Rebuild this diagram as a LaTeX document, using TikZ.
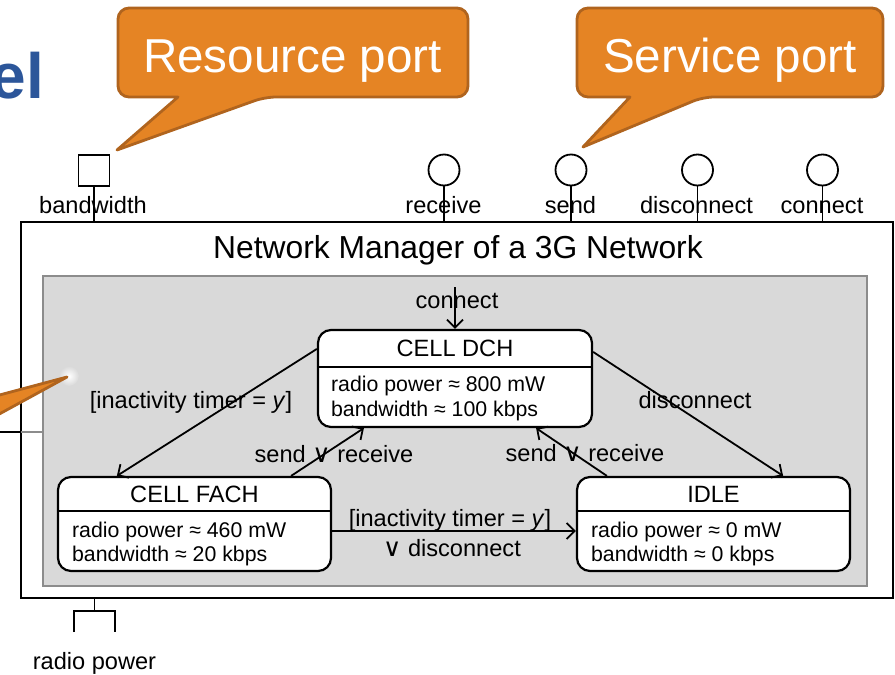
\documentclass[tikz,border=0pt]{standalone}
\usepackage{fontspec}
\setmainfont{Liberation Sans}
\newfontfamily\symfont{DejaVu Sans}
\usetikzlibrary{arrows.meta,calc}

\definecolor{calloutfill}{RGB}{229,132,36}
\definecolor{calloutline}{RGB}{176,100,30}
\definecolor{regionfill}{RGB}{217,217,217}
\definecolor{regionline}{RGB}{140,140,140}
\definecolor{titleblue}{RGB}{44,86,154}

\newcommand{\orsym}{{\symfont\fontsize{25}{28}\selectfont ∨}}

\tikzset{
  lbl/.style={font=\fontsize{23.6}{28}\selectfont, inner sep=0pt, anchor=base},
  attr/.style={font=\fontsize{21.3}{25}\selectfont, inner sep=0pt, anchor=base west},
  statebox/.style={draw, line width=2.2pt, rounded corners=13pt, fill=white,
    minimum width=273pt, minimum height=94pt, inner sep=0pt},
  divider/.style={line width=2pt},
  trans/.style={line width=1.8pt, -{Straight Barb[length=8pt,width=16pt,line width=1.8pt]}},
  portline/.style={line width=1.8pt},
  portsq/.style={draw, line width=1.8pt, minimum size=31pt, inner sep=0pt},
  portci/.style={draw, circle, line width=1.8pt, minimum size=31pt, inner sep=0pt},
  callout/.style={fill=calloutfill, draw=calloutline, line width=2.8pt, line join=round},
  callouttext/.style={font=\fontsize{47.6}{52}\selectfont, text=white, inner sep=0pt, anchor=base},
}

\begin{document}
\begin{tikzpicture}[x=1pt, y=-1pt]
\useasboundingbox (0,0) rectangle (895,675);

% heading fragment
\node[font=\bfseries\fontsize{64}{64}\selectfont, text=titleblue, anchor=base east, inner sep=0pt] (heading) at (44.5,98) {el};

% component and its inner region
\node[draw, line width=1.8pt, fill=white, minimum width=872pt, minimum height=376pt, inner sep=0pt] (net) at (457,410) {};
\node[draw=regionline, fill=regionfill, line width=2pt, minimum width=824pt, minimum height=310pt, inner sep=0pt] (region) at (455,431) {};
\node[font=\fontsize{31.8}{36}\selectfont, inner sep=0pt, anchor=base] (title) at (458,258) {Network Manager of a 3G Network};

% line entering from the left
\draw[portline] (-5,432) -- (21,432);
\draw[portline, regionline] (21,432) -- (43,432);

% ports on top
\node[portsq] (bw) at (94,170.5) {};
\node[portci] (recv) at (444,170) {};
\node[portci] (send) at (571,170) {};
\node[portci] (disc) at (697.5,170) {};
\node[portci] (conn) at (822.5,170) {};
\foreach \p in {bw,recv,send,disc,conn}
  \draw[portline] (\p.south) -- (\p.south |- net.north);
\node[lbl] (bwlbl) at (93,213) {bandwidth};
\node[lbl] (recvlbl) at (443.5,213) {receive};
\node[lbl] (sendlbl) at (570.5,213) {send};
\node[lbl] (disclbl) at (696.5,213) {disconnect};
\node[lbl] (connlbl) at (822,213) {connect};

% resource port at the bottom
\coordinate (rp) at (94.5,611);
\draw[portline] (rp) -- (rp |- net.south);
\draw[portline] ($(rp)+(-20.5,21)$) -- ++(0,-21) -- ++(41,0) -- ++(0,21);
\node[lbl] (rplbl) at (94.5,669) {radio power};

% states
\node[statebox, minimum width=274pt, minimum height=97pt] (dch) at (455,378.5) {};
\draw[divider] ([yshift=-38pt]dch.north west) -- ([yshift=-38pt]dch.north east);
\node[lbl] at ([yshift=-28pt]dch.north) {CELL DCH};
\node[attr] at ([xshift=14pt,yshift=-63pt]dch.north west) {radio power ≈ 800 mW};
\node[attr] at ([xshift=14pt,yshift=-88pt]dch.north west) {bandwidth ≈ 100 kbps};

\node[statebox] (fach) at (194.5,524) {};
\draw[divider] ([yshift=-35pt]fach.north west) -- ([yshift=-35pt]fach.north east);
\node[lbl] at ([yshift=-27pt]fach.north) {CELL FACH};
\node[attr] at ([xshift=15pt,yshift=-62pt]fach.north west) {radio power ≈ 460 mW};
\node[attr] at ([xshift=15pt,yshift=-86pt]fach.north west) {bandwidth ≈ 20 kbps};

\node[statebox] (idle) at (713.5,524) {};
\draw[divider] ([yshift=-35pt]idle.north west) -- ([yshift=-35pt]idle.north east);
\node[lbl] at ([yshift=-27pt]idle.north) {IDLE};
\node[attr] at ([xshift=15pt,yshift=-62pt]idle.north west) {radio power ≈ 0 mW};
\node[attr] at ([xshift=15pt,yshift=-86pt]idle.north west) {bandwidth ≈ 0 kbps};

% transitions
\coordinate (cin) at (455,287);
\draw[trans] (cin) -- (dch.north);
\node[lbl] at (457,308) {connect};

\draw[trans] ([yshift=-20pt]dch.north west) -- ([xshift=60pt]fach.north west);
\node[lbl] at (191,408) {[inactivity timer = \textit{y}]};

\draw[trans] ([xshift=-41pt]fach.north east) -- ([xshift=47pt]dch.south west);
\node[lbl] at (334,462) {send \orsym{} receive};

\draw[trans] ([xshift=31pt]idle.north west) -- ([xshift=-57pt]dch.south east);
\node[lbl] at (585,461) {send \orsym{} receive};

\draw[trans] ([yshift=-23pt]dch.north east) -- ([xshift=-68pt]idle.north east);
\node[lbl] at (695,408) {disconnect};

\draw[trans] ([yshift=-55pt]fach.north east) -- ([yshift=-55pt]idle.north west);
\node[lbl] at (450,526) {[inactivity timer = \textit{y}]};
\node[lbl] at (452,556) {\orsym{} disconnect};

% callouts
\shade[inner color=white, outer color=regionfill] (69,376) circle (10);
\draw[callout] (-8,397) -- (67,377) -- (-8,418) -- cycle;

\draw[callout] (178,97) [rounded corners=11pt] -- (118,97) -- (118,8) -- (468,8) -- (468,97) -- (265,97)
  [sharp corners] -- (117,150) -- cycle;
\node[callouttext] (rescall) at (292.5,72) {Resource port};

\draw[callout] (630,97) [rounded corners=11pt] -- (577,97) -- (577,8) -- (883,8) -- (883,97) -- (703,97)
  [sharp corners] -- (583,147) -- cycle;
\node[callouttext] (servcall) at (730,72) {Service port};
\end{tikzpicture}
\end{document}
